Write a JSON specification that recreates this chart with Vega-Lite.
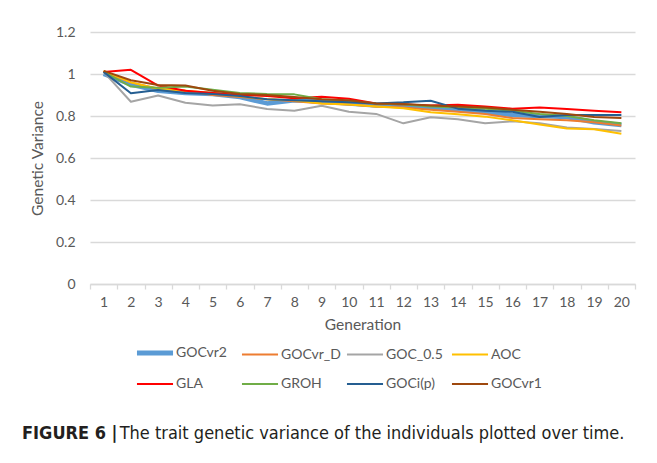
{
  "$schema": "https://vega.github.io/schema/vega-lite/v6.json",
  "width": 545,
  "height": 252,
  "autosize": {"type": "none"},
  "padding": {"left": 90, "top": 32, "right": 22, "bottom": 179},
  "background": "white",
  "title": {
    "text": "FIGURE 6 |",
    "subtitle": "\u200b\u00a0\u00a0\u00a0\u00a0\u00a0\u00a0\u00a0\u00a0\u00a0\u00a0\u00a0\u00a0\u00a0\u00a0\u00a0\u00a0\u00a0\u00a0\u00a0The trait genetic variance of the individuals plotted over time.",
    "orient": "bottom",
    "anchor": "start",
    "frame": "group",
    "dx": -68,
    "offset": 34,
    "font": "DejaVu Sans Condensed",
    "fontSize": 18,
    "fontWeight": "bold",
    "color": "#231F20",
    "subtitleFont": "DejaVu Sans Condensed",
    "subtitleFontSize": 18,
    "subtitleFontWeight": "normal",
    "subtitleColor": "#231F20",
    "subtitlePadding": -18,
    "limit": 700
  },
  "config": {
    "view": {"stroke": null},
    "font": "Lato",
    "axis": {
      "labelFont": "Lato",
      "titleFont": "Lato",
      "labelColor": "#595959",
      "titleColor": "#595959",
      "titleFontWeight": "normal",
      "labelFontSize": 14,
      "titleFontSize": 15.5
    },
    "legend": {"labelFont": "Lato", "labelFontSize": 14, "labelColor": "#595959"}
  },
  "data": {
    "values": [
      {"s":"GOCvr2","g":1,"v":1.0},{"s":"GOCvr2","g":2,"v":0.95},{"s":"GOCvr2","g":3,"v":0.92},{"s":"GOCvr2","g":4,"v":0.91},{"s":"GOCvr2","g":5,"v":0.905},{"s":"GOCvr2","g":6,"v":0.89},{"s":"GOCvr2","g":7,"v":0.86},{"s":"GOCvr2","g":8,"v":0.875},{"s":"GOCvr2","g":9,"v":0.87},{"s":"GOCvr2","g":10,"v":0.86},{"s":"GOCvr2","g":11,"v":0.85},{"s":"GOCvr2","g":12,"v":0.85},{"s":"GOCvr2","g":13,"v":0.84},{"s":"GOCvr2","g":14,"v":0.83},{"s":"GOCvr2","g":15,"v":0.82},{"s":"GOCvr2","g":16,"v":0.805},{"s":"GOCvr2","g":17,"v":0.8},{"s":"GOCvr2","g":18,"v":0.795},{"s":"GOCvr2","g":19,"v":0.77},{"s":"GOCvr2","g":20,"v":0.757},
      {"s":"GOCvr_D","g":1,"v":1.01},{"s":"GOCvr_D","g":2,"v":0.96},{"s":"GOCvr_D","g":3,"v":0.93},{"s":"GOCvr_D","g":4,"v":0.92},{"s":"GOCvr_D","g":5,"v":0.9},{"s":"GOCvr_D","g":6,"v":0.89},{"s":"GOCvr_D","g":7,"v":0.88},{"s":"GOCvr_D","g":8,"v":0.87},{"s":"GOCvr_D","g":9,"v":0.86},{"s":"GOCvr_D","g":10,"v":0.855},{"s":"GOCvr_D","g":11,"v":0.845},{"s":"GOCvr_D","g":12,"v":0.84},{"s":"GOCvr_D","g":13,"v":0.83},{"s":"GOCvr_D","g":14,"v":0.82},{"s":"GOCvr_D","g":15,"v":0.81},{"s":"GOCvr_D","g":16,"v":0.79},{"s":"GOCvr_D","g":17,"v":0.784},{"s":"GOCvr_D","g":18,"v":0.78},{"s":"GOCvr_D","g":19,"v":0.77},{"s":"GOCvr_D","g":20,"v":0.755},
      {"s":"GOC_0.5","g":1,"v":1.01},{"s":"GOC_0.5","g":2,"v":0.868},{"s":"GOC_0.5","g":3,"v":0.898},{"s":"GOC_0.5","g":4,"v":0.863},{"s":"GOC_0.5","g":5,"v":0.85},{"s":"GOC_0.5","g":6,"v":0.856},{"s":"GOC_0.5","g":7,"v":0.833},{"s":"GOC_0.5","g":8,"v":0.825},{"s":"GOC_0.5","g":9,"v":0.849},{"s":"GOC_0.5","g":10,"v":0.82},{"s":"GOC_0.5","g":11,"v":0.81},{"s":"GOC_0.5","g":12,"v":0.765},{"s":"GOC_0.5","g":13,"v":0.794},{"s":"GOC_0.5","g":14,"v":0.784},{"s":"GOC_0.5","g":15,"v":0.765},{"s":"GOC_0.5","g":16,"v":0.775},{"s":"GOC_0.5","g":17,"v":0.765},{"s":"GOC_0.5","g":18,"v":0.745},{"s":"GOC_0.5","g":19,"v":0.738},{"s":"GOC_0.5","g":20,"v":0.728},
      {"s":"AOC","g":1,"v":1.015},{"s":"AOC","g":2,"v":0.96},{"s":"AOC","g":3,"v":0.93},{"s":"AOC","g":4,"v":0.92},{"s":"AOC","g":5,"v":0.91},{"s":"AOC","g":6,"v":0.895},{"s":"AOC","g":7,"v":0.88},{"s":"AOC","g":8,"v":0.875},{"s":"AOC","g":9,"v":0.86},{"s":"AOC","g":10,"v":0.855},{"s":"AOC","g":11,"v":0.845},{"s":"AOC","g":12,"v":0.837},{"s":"AOC","g":13,"v":0.818},{"s":"AOC","g":14,"v":0.808},{"s":"AOC","g":15,"v":0.797},{"s":"AOC","g":16,"v":0.78},{"s":"AOC","g":17,"v":0.76},{"s":"AOC","g":18,"v":0.741},{"s":"AOC","g":19,"v":0.737},{"s":"AOC","g":20,"v":0.715},
      {"s":"GLA","g":1,"v":1.01},{"s":"GLA","g":2,"v":1.02},{"s":"GLA","g":3,"v":0.945},{"s":"GLA","g":4,"v":0.92},{"s":"GLA","g":5,"v":0.91},{"s":"GLA","g":6,"v":0.9},{"s":"GLA","g":7,"v":0.895},{"s":"GLA","g":8,"v":0.885},{"s":"GLA","g":9,"v":0.892},{"s":"GLA","g":10,"v":0.882},{"s":"GLA","g":11,"v":0.86},{"s":"GLA","g":12,"v":0.855},{"s":"GLA","g":13,"v":0.85},{"s":"GLA","g":14,"v":0.853},{"s":"GLA","g":15,"v":0.845},{"s":"GLA","g":16,"v":0.835},{"s":"GLA","g":17,"v":0.84},{"s":"GLA","g":18,"v":0.833},{"s":"GLA","g":19,"v":0.825},{"s":"GLA","g":20,"v":0.818},
      {"s":"GROH","g":1,"v":1.01},{"s":"GROH","g":2,"v":0.94},{"s":"GROH","g":3,"v":0.935},{"s":"GROH","g":4,"v":0.94},{"s":"GROH","g":5,"v":0.925},{"s":"GROH","g":6,"v":0.91},{"s":"GROH","g":7,"v":0.905},{"s":"GROH","g":8,"v":0.903},{"s":"GROH","g":9,"v":0.88},{"s":"GROH","g":10,"v":0.87},{"s":"GROH","g":11,"v":0.86},{"s":"GROH","g":12,"v":0.855},{"s":"GROH","g":13,"v":0.845},{"s":"GROH","g":14,"v":0.84},{"s":"GROH","g":15,"v":0.835},{"s":"GROH","g":16,"v":0.825},{"s":"GROH","g":17,"v":0.81},{"s":"GROH","g":18,"v":0.8},{"s":"GROH","g":19,"v":0.78},{"s":"GROH","g":20,"v":0.765},
      {"s":"GOCi(p)","g":1,"v":1.01},{"s":"GOCi(p)","g":2,"v":0.908},{"s":"GOCi(p)","g":3,"v":0.924},{"s":"GOCi(p)","g":4,"v":0.91},{"s":"GOCi(p)","g":5,"v":0.905},{"s":"GOCi(p)","g":6,"v":0.895},{"s":"GOCi(p)","g":7,"v":0.88},{"s":"GOCi(p)","g":8,"v":0.875},{"s":"GOCi(p)","g":9,"v":0.87},{"s":"GOCi(p)","g":10,"v":0.865},{"s":"GOCi(p)","g":11,"v":0.86},{"s":"GOCi(p)","g":12,"v":0.865},{"s":"GOCi(p)","g":13,"v":0.873},{"s":"GOCi(p)","g":14,"v":0.835},{"s":"GOCi(p)","g":15,"v":0.825},{"s":"GOCi(p)","g":16,"v":0.82},{"s":"GOCi(p)","g":17,"v":0.795},{"s":"GOCi(p)","g":18,"v":0.805},{"s":"GOCi(p)","g":19,"v":0.805},{"s":"GOCi(p)","g":20,"v":0.805},
      {"s":"GOCvr1","g":1,"v":1.015},{"s":"GOCvr1","g":2,"v":0.97},{"s":"GOCvr1","g":3,"v":0.948},{"s":"GOCvr1","g":4,"v":0.945},{"s":"GOCvr1","g":5,"v":0.92},{"s":"GOCvr1","g":6,"v":0.905},{"s":"GOCvr1","g":7,"v":0.9},{"s":"GOCvr1","g":8,"v":0.89},{"s":"GOCvr1","g":9,"v":0.88},{"s":"GOCvr1","g":10,"v":0.875},{"s":"GOCvr1","g":11,"v":0.86},{"s":"GOCvr1","g":12,"v":0.857},{"s":"GOCvr1","g":13,"v":0.85},{"s":"GOCvr1","g":14,"v":0.845},{"s":"GOCvr1","g":15,"v":0.84},{"s":"GOCvr1","g":16,"v":0.83},{"s":"GOCvr1","g":17,"v":0.82},{"s":"GOCvr1","g":18,"v":0.81},{"s":"GOCvr1","g":19,"v":0.795},{"s":"GOCvr1","g":20,"v":0.79}
    ]
  },
  "mark": {"type": "line", "strokeJoin": "round"},
  "encoding": {
    "x": {
      "field": "g",
      "type": "ordinal",
      "bandPosition": 0.5,
      "scale": {"type": "band", "paddingInner": 0, "paddingOuter": 0},
      "axis": {
        "title": "Generation",
        "labelAngle": 0,
        "tickBand": "extent",
        "tickColor": "#D9D9D9",
        "tickSize": 5,
        "tickWidth": 1.3,
        "domainColor": "#D9D9D9",
        "domainWidth": 1.3,
        "labelPadding": 6,
        "titlePadding": 8,
        "grid": false
      }
    },
    "y": {
      "field": "v",
      "type": "quantitative",
      "scale": {"domain": [0, 1.2], "nice": false, "zero": true},
      "axis": {
        "title": "Genetic Variance",
        "values": [0, 0.2, 0.4, 0.6, 0.8, 1, 1.2],
        "format": "~g",
        "domain": false,
        "ticks": false,
        "labelPadding": 15,
        "titlePadding": 10,
        "gridColor": "#D9D9D9",
        "gridWidth": 1.3
      }
    },
    "color": {
      "field": "s",
      "type": "nominal",
      "scale": {
        "domain": ["GOCvr2", "GOCvr_D", "GOC_0.5", "AOC", "GLA", "GROH", "GOCi(p)", "GOCvr1"],
        "range": ["#5B9BD5", "#ED7D31", "#A5A5A5", "#FFC000", "#FF0000", "#70AD47", "#255E91", "#9E480E"]
      },
      "legend": {
        "title": null,
        "orient": "none",
        "legendX": 58,
        "legendY": 314,
        "direction": "horizontal",
        "columns": 4,
        "gridAlign": "all",
        "symbolType": "stroke",
        "symbolSize": 1300,
        "labelOffset": 14,
        "columnPadding": 1,
        "rowPadding": 14,
        "padding": 0,
        "encode": {
          "symbols": {
            "update": {
              "strokeWidth": {"signal": "datum.value === 'GOCvr2' ? 5 : 2"}
            }
          }
        }
      }
    },
    "strokeWidth": {
      "condition": {"test": "datum.s === 'GOCvr2'", "value": 4.5},
      "value": 2
    }
  }
}
